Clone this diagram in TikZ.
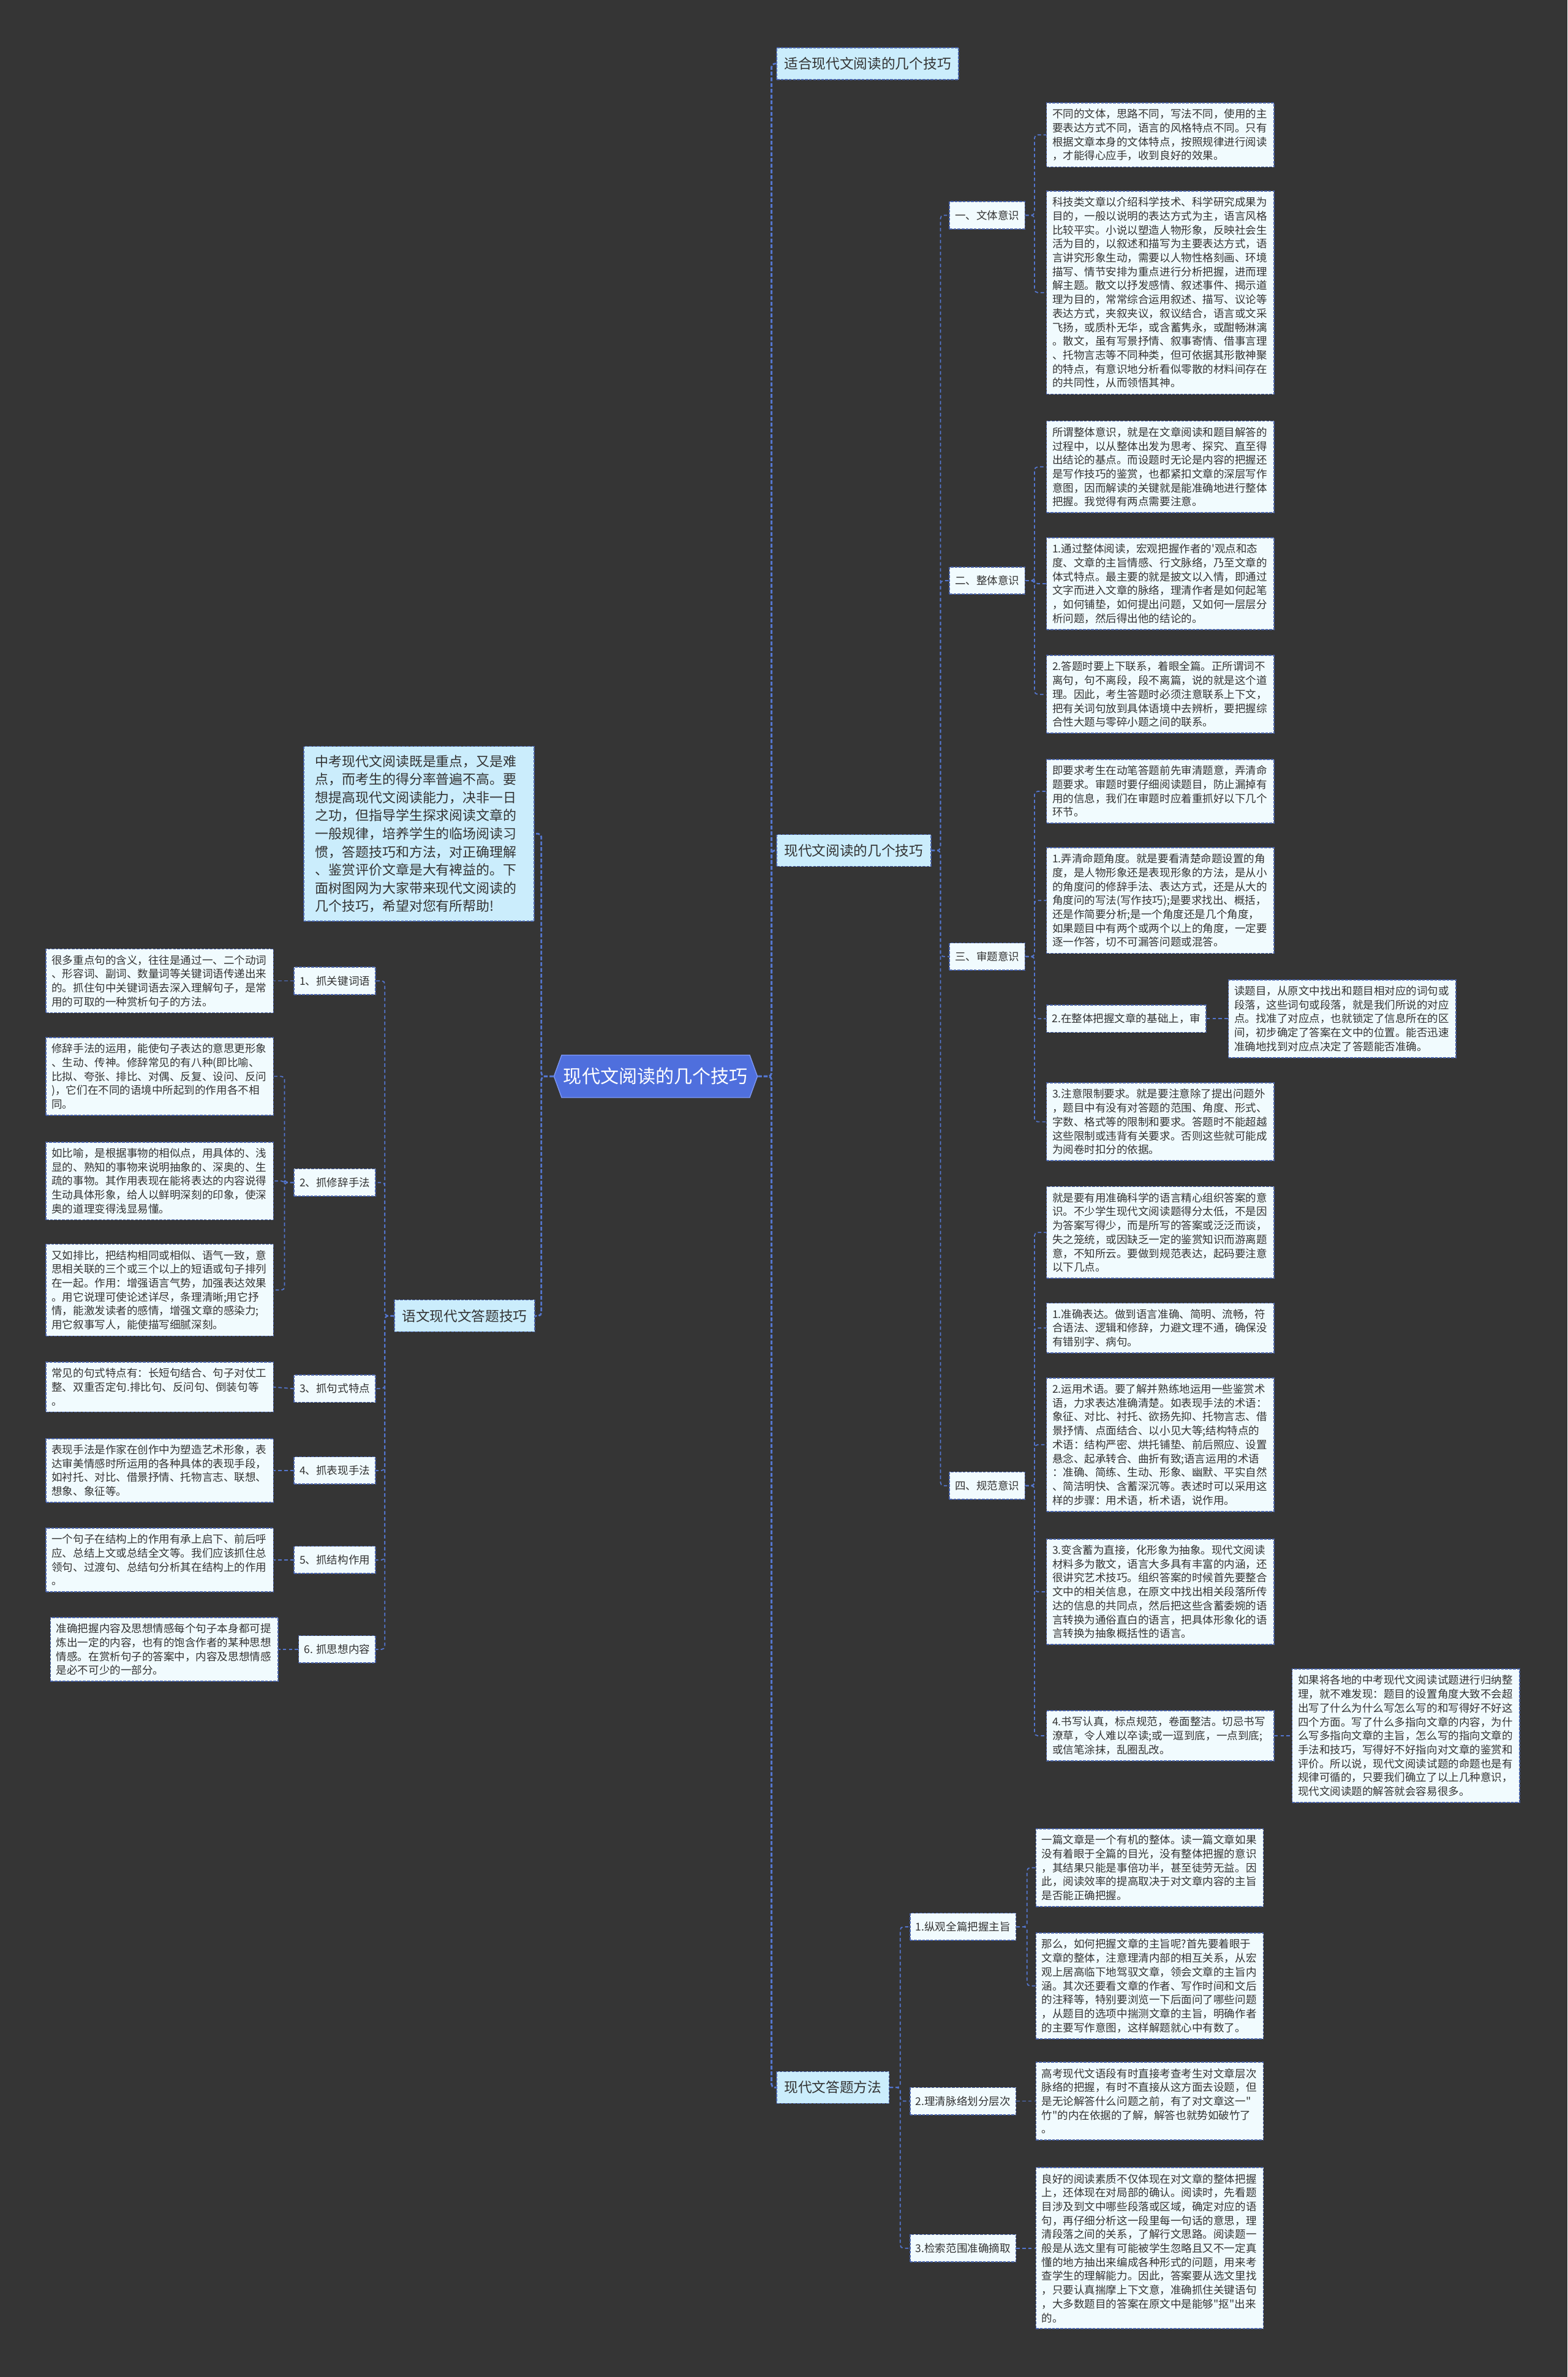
\documentclass[tikz,border=0pt]{standalone}
\usepackage{fontspec}
\setmainfont{Noto Sans CJK SC}[Ligatures=TeXOff]
\usetikzlibrary{shapes.symbols}
\definecolor{bg}{HTML}{353535}
\definecolor{cardfill}{HTML}{F1FBFE}
\definecolor{topicfill}{HTML}{CBEDFC}
\definecolor{rootfill}{HTML}{4F6FDD}
\definecolor{rootedge}{HTML}{7D97F2}
\definecolor{cardedge}{HTML}{4A64AC}
\definecolor{linkcol}{HTML}{5476CF}
\definecolor{ink}{HTML}{333333}

\begin{document}
\begin{tikzpicture}[x=0.025cm,y=-0.025cm,
  cardbox/.style={draw=cardedge,fill=cardfill,line width=0.45pt,dash pattern=on 1.3pt off 0.6pt,
    text=ink,font=\fontsize{5.04pt}{6.52pt}\selectfont,text width=3.56cm,align=left,
    inner xsep=0.095cm,inner ysep=0.1cm,anchor=west},
  tagbox/.style={draw=cardedge,fill=cardfill,line width=0.45pt,dash pattern=on 1.3pt off 0.6pt,
    text=ink,font=\fontsize{5.04pt}{6pt}\selectfont,inner xsep=0.09cm,inner ysep=0pt,minimum height=0.45cm},
  topicbox/.style={draw=cardedge,fill=topicfill,line width=0.45pt,dash pattern=on 1.3pt off 0.6pt,
    text=ink,font=\fontsize{6.52pt}{8pt}\selectfont,inner xsep=0.125cm,inner ysep=0pt,minimum height=0.525cm},
  introbox/.style={draw=cardedge,fill=topicfill,line width=0.45pt,dash pattern=on 1.3pt off 0.6pt,
    text=ink,font=\fontsize{6.3pt}{8.5pt}\selectfont,text width=3.42cm,align=left,
    inner xsep=0.19cm,inner ysep=0.14cm,anchor=west},
  rootbox/.style={shape=signal,signal to=east and west,signal pointer angle=140,fill=rootfill,
    draw=rootedge,line width=0.4pt,text=white,font=\fontsize{8.65pt}{10pt}\selectfont,
    inner xsep=0.03cm,minimum height=0.7cm},
  trunk/.style={draw=linkcol,line width=0.8pt,dash pattern=on 1.8pt off 0.9pt,rounded corners=1.5pt},
  twig/.style={draw=linkcol,line width=0.5pt,dash pattern=on 1.6pt off 1.2pt,rounded corners=1.5pt}]
  \fill[bg] (0,0) rectangle (1034,1568);
  \useasboundingbox (0,0) rectangle (1034,1568);

  % ---- root ----
  \node[rootbox] (root) at (432.5,710) {现代文阅读的几个技巧};

  % ---- right topics ----
  \node[topicbox,anchor=west] (fit) at (512,42) {适合现代文阅读的几个技巧};
  \node[topicbox,anchor=west] (read) at (512,561) {现代文阅读的几个技巧};
  \node[topicbox,anchor=west] (ways) at (512,1377) {现代文答题方法};

  % ---- left topics ----
  \node[introbox] (intro) at (200,550) {中考现代文阅读既是重点，又是难\\点，而考生的得分率普遍不高。要\\想提高现代文阅读能力，决非一日\\之功，但指导学生探求阅读文章的\\一般规律，培养学生的临场阅读习\\惯，答题技巧和方法，对正确理解\\、鉴赏评价文章是大有裨益的。下\\面树图网为大家带来现代文阅读的\\几个技巧，希望对您有所帮助!};
  \node[topicbox,anchor=east] (tips) at (353,868) {语文现代文答题技巧};

  % ---- 现代文阅读的几个技巧 ----
  \node[tagbox,anchor=west] (style) at (626,142) {一、文体意识};
  \node[tagbox,anchor=west] (whole) at (626,383) {二、整体意识};
  \node[tagbox,anchor=west] (exam) at (626,631) {三、审题意识};
  \node[tagbox,anchor=west] (norm) at (626,980) {四、规范意识};

  \node[cardbox] (s1) at (690,89) {不同的文体，思路不同，写法不同，使用的主\\要表达方式不同，语言的风格特点不同。只有\\根据文章本身的文体特点，按照规律进行阅读\\，才能得心应手，收到良好的效果。};
  \node[cardbox] (s2) at (690,193) {科技类文章以介绍科学技术、科学研究成果为\\目的，一般以说明的表达方式为主，语言风格\\比较平实。小说以塑造人物形象，反映社会生\\活为目的，以叙述和描写为主要表达方式，语\\言讲究形象生动，需要以人物性格刻画、环境\\描写、情节安排为重点进行分析把握，进而理\\解主题。散文以抒发感情、叙述事件、揭示道\\理为目的，常常综合运用叙述、描写、议论等\\表达方式，夹叙夹议，叙议结合，语言或文采\\飞扬，或质朴无华，或含蓄隽永，或酣畅淋漓\\。散文，虽有写景抒情、叙事寄情、借事言理\\、托物言志等不同种类，但可依据其形散神聚\\的特点，有意识地分析看似零散的材料间存在\\的共同性，从而领悟其神。};

  \node[cardbox] (w1) at (690,308) {所谓整体意识，就是在文章阅读和题目解答的\\过程中，以从整体出发为思考、探究、直至得\\出结论的基点。而设题时无论是内容的把握还\\是写作技巧的鉴赏，也都紧扣文章的深层写作\\意图，因而解读的关键就是能准确地进行整体\\把握。我觉得有两点需要注意。};
  \node[cardbox] (w2) at (690,385) {1.通过整体阅读，宏观把握作者的'观点和态\\度、文章的主旨情感、行文脉络，乃至文章的\\体式特点。最主要的就是披文以入情，即通过\\文字而进入文章的脉络，理清作者是如何起笔\\，如何铺垫，如何提出问题，又如何一层层分\\析问题，然后得出他的结论的。};
  \node[cardbox] (w3) at (690,458) {2.答题时要上下联系，着眼全篇。正所谓词不\\离句，句不离段，段不离篇，说的就是这个道\\理。因此，考生答题时必须注意联系上下文，\\把有关词句放到具体语境中去辨析，要把握综\\合性大题与零碎小题之间的联系。};

  \node[cardbox] (x1) at (690,522) {即要求考生在动笔答题前先审清题意，弄清命\\题要求。审题时要仔细阅读题目，防止漏掉有\\用的信息，我们在审题时应着重抓好以下几个\\环节。};
  \node[cardbox] (x2) at (690,594) {1.弄清命题角度。就是要看清楚命题设置的角\\度，是人物形象还是表现形象的方法，是从小\\的角度问的修辞手法、表达方式，还是从大的\\角度问的写法(写作技巧);是要求找出、概括，\\还是作简要分析;是一个角度还是几个角度，\\如果题目中有两个或两个以上的角度，一定要\\逐一作答，切不可漏答问题或混答。};
  \node[tagbox,anchor=west] (x3) at (690,672) {2.在整体把握文章的基础上，审};
  \node[cardbox] (x3r) at (810,672) {读题目，从原文中找出和题目相对应的词句或\\段落，这些词句或段落，就是我们所说的对应\\点。找准了对应点，也就锁定了信息所在的区\\间，初步确定了答案在文中的位置。能否迅速\\准确地找到对应点决定了答题能否准确。};
  \node[cardbox] (x4) at (690,740) {3.注意限制要求。就是要注意除了提出问题外\\，题目中有没有对答题的范围、角度、形式、\\字数、格式等的限制和要求。答题时不能超越\\这些限制或违背有关要求。否则这些就可能成\\为阅卷时扣分的依据。};

  \node[cardbox] (n1) at (690,813) {就是要有用准确科学的语言精心组织答案的意\\识。不少学生现代文阅读题得分太低，不是因\\为答案写得少，而是所写的答案或泛泛而谈，\\失之笼统，或因缺乏一定的鉴赏知识而游离题\\意，不知所云。要做到规范表达，起码要注意\\以下几点。};
  \node[cardbox] (n2) at (690,876) {1.准确表达。做到语言准确、简明、流畅，符\\合语法、逻辑和修辞，力避文理不通，确保没\\有错别字、病句。};
  \node[cardbox] (n3) at (690,953) {2.运用术语。要了解并熟练地运用一些鉴赏术\\语，力求表达准确清楚。如表现手法的术语：\\象征、对比、衬托、欲扬先抑、托物言志、借\\景抒情、点面结合、以小见大等;结构特点的\\术语：结构严密、烘托铺垫、前后照应、设置\\悬念、起承转合、曲折有致;语言运用的术语\\：准确、简练、生动、形象、幽默、平实自然\\、简洁明快、含蓄深沉等。表述时可以采用这\\样的步骤：用术语，析术语，说作用。};
  \node[cardbox] (n4) at (690,1050) {3.变含蓄为直接，化形象为抽象。现代文阅读\\材料多为散文，语言大多具有丰富的内涵，还\\很讲究艺术技巧。组织答案的时候首先要整合\\文中的相关信息，在原文中找出相关段落所传\\达的信息的共同点，然后把这些含蓄委婉的语\\言转换为通俗直白的语言，把具体形象化的语\\言转换为抽象概括性的语言。};
  \node[cardbox] (n5) at (690,1145) {4.书写认真，标点规范，卷面整洁。切忌书写\\潦草，令人难以卒读;或一逗到底，一点到底;\\或信笔涂抹，乱圈乱改。};
  \node[cardbox] (n5r) at (852,1145) {如果将各地的中考现代文阅读试题进行归纳整\\理，就不难发现：题目的设置角度大致不会超\\出写了什么为什么写怎么写的和写得好不好这\\四个方面。写了什么多指向文章的内容，为什\\么写多指向文章的主旨，怎么写的指向文章的\\手法和技巧，写得好不好指向对文章的鉴赏和\\评价。所以说，现代文阅读试题的命题也是有\\规律可循的，只要我们确立了以上几种意识，\\现代文阅读题的解答就会容易很多。};

  % ---- 现代文答题方法 ----
  \node[tagbox,anchor=west] (m1) at (600,1271) {1.纵观全篇把握主旨};
  \node[tagbox,anchor=west] (m2) at (600,1386) {2.理清脉络划分层次};
  \node[tagbox,anchor=west] (m3) at (600,1483) {3.检索范围准确摘取};
  \node[cardbox] (a1) at (683,1232) {一篇文章是一个有机的整体。读一篇文章如果\\没有着眼于全篇的目光，没有整体把握的意识\\，其结果只能是事倍功半，甚至徒劳无益。因\\此，阅读效率的提高取决于对文章内容的主旨\\是否能正确把握。};
  \node[cardbox] (a2) at (683,1310) {那么，如何把握文章的主旨呢?首先要着眼于\\文章的整体，注意理清内部的相互关系，从宏\\观上居高临下地驾驭文章，领会文章的主旨内\\涵。其次还要看文章的作者、写作时间和文后\\的注释等，特别要浏览一下后面问了哪些问题\\，从题目的选项中揣测文章的主旨，明确作者\\的主要写作意图，这样解题就心中有数了。};
  \node[cardbox] (b1) at (683,1386) {高考现代文语段有时直接考查考生对文章层次\\脉络的把握，有时不直接从这方面去设题，但\\是无论解答什么问题之前，有了对文章这一"\\竹"的内在依据的了解，解答也就势如破竹了\\。};
  \node[cardbox] (c1) at (683,1483) {良好的阅读素质不仅体现在对文章的整体把握\\上，还体现在对局部的确认。阅读时，先看题\\目涉及到文中哪些段落或区域，确定对应的语\\句，再仔细分析这一段里每一句话的意思，理\\清段落之间的关系，了解行文思路。阅读题一\\般是从选文里有可能被学生忽略且又不一定真\\懂的地方抽出来编成各种形式的问题，用来考\\查学生的理解能力。因此，答案要从选文里找\\，只要认真揣摩上下文意，准确抓住关键语句\\，大多数题目的答案在原文中是能够"抠"出来\\的。};

  % ---- 语文现代文答题技巧 ----
  \node[tagbox,anchor=east] (k1) at (248,647) {1、抓关键词语};
  \node[tagbox,anchor=east] (k2) at (248,780) {2、抓修辞手法};
  \node[tagbox,anchor=east] (k3) at (248,916) {3、抓句式特点};
  \node[tagbox,anchor=east] (k4) at (248,970) {4、抓表现手法};
  \node[tagbox,anchor=east] (k5) at (248,1029) {5、抓结构作用};
  \node[tagbox,anchor=east] (k6) at (248,1088) {6. 抓思想内容};

  \node[cardbox] (l1) at (30,647) {很多重点句的含义，往往是通过一、二个动词\\、形容词、副词、数量词等关键词语传递出来\\的。抓住句中关键词语去深入理解句子，是常\\用的可取的一种赏析句子的方法。};
  \node[cardbox] (l2a) at (30,710) {修辞手法的运用，能使句子表达的意思更形象\\、生动、传神。修辞常见的有八种(即比喻、\\比拟、夸张、排比、对偶、反复、设问、反问\\)，它们在不同的语境中所起到的作用各不相\\同。};
  \node[cardbox] (l2b) at (30,779) {如比喻，是根据事物的相似点，用具体的、浅\\显的、熟知的事物来说明抽象的、深奥的、生\\疏的事物。其作用表现在能将表达的内容说得\\生动具体形象，给人以鲜明深刻的印象，使深\\奥的道理变得浅显易懂。};
  \node[cardbox] (l2c) at (30,851) {又如排比，把结构相同或相似、语气一致，意\\思相关联的三个或三个以上的短语或句子排列\\在一起。作用：增强语言气势，加强表达效果\\。用它说理可使论述详尽，条理清晰;用它抒\\情，能激发读者的感情，增强文章的感染力;\\用它叙事写人，能使描写细腻深刻。};
  \node[cardbox] (l3) at (30,915) {常见的句式特点有：长短句结合、句子对仗工\\整、双重否定句.排比句、反问句、倒装句等\\。};
  \node[cardbox] (l4) at (30,970) {表现手法是作家在创作中为塑造艺术形象，表\\达审美情感时所运用的各种具体的表现手段，\\如衬托、对比、借景抒情、托物言志、联想、\\想象、象征等。};
  \node[cardbox] (l5) at (30,1029) {一个句子在结构上的作用有承上启下、前后呼\\应、总结上文或总结全文等。我们应该抓住总\\领句、过渡句、总结句分析其在结构上的作用\\。};
  \node[cardbox] (l6) at (33,1088) {准确把握内容及思想情感每个句子本身都可提\\炼出一定的内容，也有的饱含作者的某种思想\\情感。在赏析句子的答案中，内容及思想情感\\是必不可少的一部分。};

  % ---- connectors ----
  \foreach \c in {fit,read,ways} \draw[trunk] (root.east) -- ++(9,0) |- (\c.west);
  \foreach \c in {intro,tips} \draw[trunk] (root.west) -- ++(-8,0) |- (\c.east);

  \foreach \c in {style,whole,exam,norm} \draw[twig] (read.east) -- ++(6,0) |- (\c.west);
  \foreach \c in {s1,s2} \draw[twig] (style.east) -- ++(6,0) |- (\c.west);
  \foreach \c in {w1,w2,w3} \draw[twig] (whole.east) -- ++(6,0) |- (\c.west);
  \foreach \c in {x1,x2,x3,x4} \draw[twig] (exam.east) -- ++(6,0) |- (\c.west);
  \foreach \c in {n1,n2,n3,n4,n5} \draw[twig] (norm.east) -- ++(6,0) |- (\c.west);
  \draw[twig] (x3.east) -- (x3r.west);
  \draw[twig] (n5.east) -- (n5r.west);

  \foreach \c in {m1,m2,m3} \draw[twig] (ways.east) -- ++(7,0) |- (\c.west);
  \foreach \c in {a1,a2} \draw[twig] (m1.east) -- ++(7,0) |- (\c.west);
  \draw[twig] (m2.east) -- (b1.west);
  \draw[twig] (m3.east) -- (c1.west);

  \foreach \c in {k1,k2,k3,k4,k5,k6} \draw[twig] (tips.west) -- ++(-6,0) |- (\c.east);
  \draw[twig] (k1.west) -- (l1.east);
  \foreach \c in {l2a,l2b,l2c} \draw[twig] (k2.west) -- ++(-6,0) |- (\c.east);
  \draw[twig] (k3.west) -- (l3.east);
  \draw[twig] (k4.west) -- (l4.east);
  \draw[twig] (k5.west) -- (l5.east);
  \draw[twig] (k6.west) -- (l6.east);
\end{tikzpicture}
\end{document}
